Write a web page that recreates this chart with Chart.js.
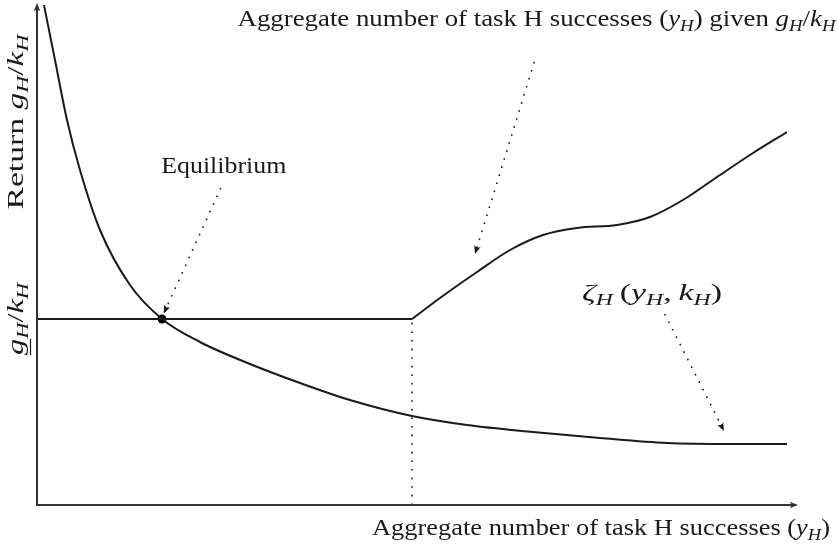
<!DOCTYPE html>
<html><head><meta charset="utf-8">
<script src="https://cdn.jsdelivr.net/npm/chart.js@4"></script>
<style>html,body{margin:0;padding:0;background:#fff}#wrap{width:838px;height:545px;position:relative}</style>
</head><body><div id="wrap"><canvas id="c" width="838" height="545"></canvas></div>
<script>
// ---- data (conceptual units, 0..100 on both axes) ----
const zetaX = [0.93, 2.4, 4.0, 5.73, 8.4, 12.4, 16.67, 21.73, 28.4, 35.07, 41.73, 50, 57.33, 66.13, 75.07, 84, 92.8, 100];
const zetaY = [100, 89, 77, 67, 55, 44, 37.2, 32.6, 28.2, 24.4, 21, 17.8, 16.0, 14.6, 13.4, 12.4, 12.2, 12.2];
const floorX = [0, 50];
const floorY = [37.2, 37.2];
const supplyX = [50, 53.73, 58.67, 63.07, 67.47, 72, 77.33, 81.73, 86.13, 90.67, 95.47, 100];
const supplyY = [37.2, 41.4, 46.6, 51, 54, 55.4, 56, 57.6, 61, 65.6, 70.4, 74.6];
const dropX = [50, 50];
const dropY = [0, 37.2];
const equilibriumX = [16.67];
const equilibriumY = [37.2];

// text labels (segments: i = italic, s = subscript, u = underline)
const xAxisTitle = [{t:'Aggregate number of task H successes ('},{t:'y',i:1},{t:'H',i:1,s:1},{t:')'}];
const yAxisTitle = [{t:'Return '},{t:'g',i:1},{t:'H',i:1,s:1},{t:'/'},{t:'k',i:1},{t:'H',i:1,s:1}];
const yFloorLabel = [{t:'g',i:1,u:1},{t:'H',i:1,s:1},{t:'/'},{t:'k',i:1},{t:'H',i:1,s:1}];
const eqLabel = [{t:'Equilibrium'}];
const supplyLabel = [{t:'Aggregate number of task H successes ('},{t:'y',i:1},{t:'H',i:1,s:1},{t:') given '},{t:'g',i:1},{t:'H',i:1,s:1},{t:'/'},{t:'k',i:1},{t:'H',i:1,s:1}];
const zetaLabel = [{t:'\u03B6',i:1},{t:'H',i:1,s:1},{t:'\u2009('},{t:'y',i:1},{t:'H',i:1,s:1},{t:',\u2009'},{t:'k',i:1},{t:'H',i:1,s:1},{t:')'}];

// ---- layout of annotations (data coordinates) ----
const annotations = [
  {segs: eqLabel, at:[24.9, 66.4], w:125, from:[24.5, 63.4], to:[16.9, 38.3]},
  {segs: supplyLabel, at:[66.6, 95.8], w:598, from:[66.3, 88.6], to:[58.4, 50.2]},
  {segs: zetaLabel, at:[82.0, 41.0], w:140, from:[83.7, 38.2], to:[91.6, 14.8]}
];

const toPts = (xs, ys) => xs.map((x, k) => ({x, y: ys[k]}));
const INK = '#1a1a1a';
const FONT = '"Liberation Serif", "Times New Roman", serif';
const FS = 23;

function segFont(sg, size){
  const sz = sg.s ? size*0.7 : size;
  return (sg.i ? 'italic ' : '') + sz + 'px ' + FONT;
}
// rich text, widened horizontally to match the reference's wider (Computer Modern) typeface
function drawRich(ctx, segs, x, y, size, target, align){
  ctx.save();
  let total = 0;
  const ws = segs.map(sg => { ctx.font = segFont(sg, size); const w = ctx.measureText(sg.t).width; total += w; return w; });
  const k = target ? target / total : 1;
  const full = total * k;
  const left = align === 'right' ? x - full : (align === 'left' ? x : x - full/2);
  ctx.translate(left, y);
  ctx.scale(k, 1);
  ctx.fillStyle = INK;
  ctx.textBaseline = 'alphabetic';
  let cx = 0;
  segs.forEach((sg, j) => {
    ctx.font = segFont(sg, size);
    const yy = sg.s ? size*0.2 : 0;
    ctx.fillText(sg.t, cx, yy);
    if (sg.u) ctx.fillRect(cx, size*0.3, ws[j], 1.2);
    cx += ws[j];
  });
  ctx.restore();
}
function arrowHead(ctx, x1, y1, x2, y2, len){
  const a = Math.atan2(y2-y1, x2-x1);
  ctx.save();
  ctx.setLineDash([]);
  ctx.beginPath();
  ctx.moveTo(x2, y2);
  ctx.lineTo(x2 - len*Math.cos(a-0.38), y2 - len*Math.sin(a-0.38));
  ctx.quadraticCurveTo(x2 - len*0.6*Math.cos(a), y2 - len*0.6*Math.sin(a), x2 - len*Math.cos(a+0.38), y2 - len*Math.sin(a+0.38));
  ctx.closePath();
  ctx.fill();
  ctx.restore();
}

const decor = {
  id: 'decor',
  afterDatasetsDraw(chart){
    const {ctx, chartArea: ca, scales: {x, y}} = chart;
    ctx.save();
    ctx.strokeStyle = '#333';
    ctx.fillStyle = '#333';
    ctx.lineWidth = 2;
    // axes with arrows
    const ox = x.getPixelForValue(0), oy = y.getPixelForValue(0);
    ctx.beginPath();
    ctx.moveTo(ox, oy); ctx.lineTo(ox, ca.top + 1);
    ctx.moveTo(ox - 1, oy); ctx.lineTo(ca.right + 9, oy);
    ctx.stroke();
    arrowHead(ctx, ox, oy, ox, ca.top - 2, 9);
    arrowHead(ctx, ox, oy, ca.right + 11, oy, 9);
    // annotation arrows and labels
    ctx.fillStyle = INK; ctx.strokeStyle = INK;
    annotations.forEach(a => {
      const x1 = x.getPixelForValue(a.from[0]), y1 = y.getPixelForValue(a.from[1]);
      const x2 = x.getPixelForValue(a.to[0]), y2 = y.getPixelForValue(a.to[1]);
      ctx.save();
      ctx.lineWidth = 1.6;
      ctx.setLineDash([1.6, 6.8]);
      ctx.beginPath(); ctx.moveTo(x1, y1); ctx.lineTo(x2, y2); ctx.stroke();
      ctx.restore();
      arrowHead(ctx, x1, y1, x2, y2, 9);
      drawRich(ctx, a.segs, x.getPixelForValue(a.at[0]), y.getPixelForValue(a.at[1]), FS, a.w, 'center');
    });
    // axis titles
    drawRich(ctx, xAxisTitle, ca.right + 43, oy + 30, FS, 458, 'right');
    ctx.save();
    ctx.translate(ox - 14, y.getPixelForValue(76.6));
    ctx.rotate(-Math.PI/2);
    drawRich(ctx, yAxisTitle, 0, 0, FS, 175, 'center');
    ctx.restore();
    ctx.save();
    ctx.translate(ox - 14, y.getPixelForValue(floorY[0]));
    ctx.rotate(-Math.PI/2);
    drawRich(ctx, yFloorLabel, 0, 0, FS, 72, 'center');
    ctx.restore();
    ctx.restore();
  }
};

new Chart(document.getElementById('c'), {
  type: 'scatter',
  data: {
    datasets: [
      {data: toPts(zetaX, zetaY), showLine: true, borderColor: INK, borderWidth: 2, pointRadius: 0, cubicInterpolationMode: 'monotone'},
      {data: toPts(floorX, floorY), showLine: true, borderColor: INK, borderWidth: 2, pointRadius: 0, tension: 0},
      {data: toPts(supplyX, supplyY), showLine: true, borderColor: INK, borderWidth: 2, pointRadius: 0, cubicInterpolationMode: 'monotone'},
      {data: toPts(dropX, dropY), showLine: true, borderColor: INK, borderWidth: 1.6, borderDash: [1.6, 7], pointRadius: 0},
      {data: toPts(equilibriumX, equilibriumY), showLine: false, pointRadius: 4.5, pointBackgroundColor: '#000', pointBorderWidth: 0}
    ]
  },
  options: {
    responsive: false, animation: false, devicePixelRatio: 1,
    layout: {padding: {left: 37, right: 51, top: 5, bottom: 40}},
    scales: {
      x: {type: 'linear', min: 0, max: 100, display: false},
      y: {type: 'linear', min: 0, max: 100, display: false}
    },
    plugins: {legend: {display: false}, tooltip: {enabled: false}},
    events: []
  },
  plugins: [decor]
});
</script>
</body></html>
